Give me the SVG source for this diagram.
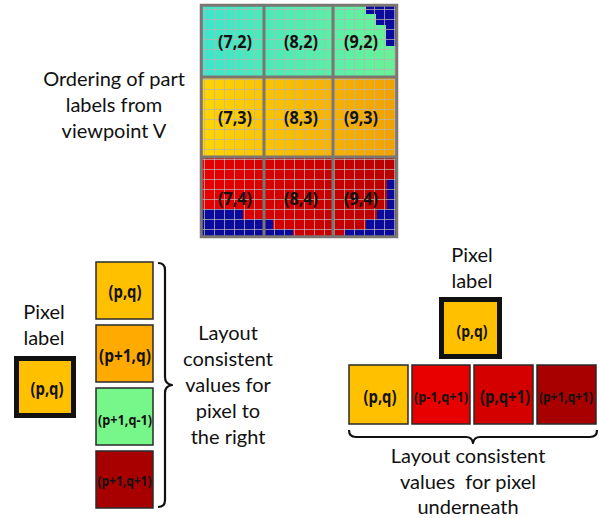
<svg xmlns="http://www.w3.org/2000/svg" width="599" height="518" viewBox="0 0 599 518">
<style>
.t{font-family:Lato,"Liberation Sans",sans-serif;font-size:20px;fill:#111;text-anchor:middle}
.b{font-family:"Open Sans","Liberation Sans",sans-serif;font-weight:700;fill:#111;text-anchor:middle}
.sq{stroke:#2a2a2a;stroke-width:1.5}
.thick{stroke:#111;stroke-width:5}
.sep{stroke:#7b7672;stroke-width:3;fill:none}
.brace{fill:none;stroke:#111;stroke-width:2.2;stroke-linejoin:round}
</style>
<defs>
<linearGradient id="g1" x1="200" y1="0" x2="398" y2="0" gradientUnits="userSpaceOnUse"><stop offset="0" stop-color="#3CE6CC"/><stop offset="1" stop-color="#68F494"/></linearGradient>
<linearGradient id="g2" x1="200" y1="0" x2="398" y2="0" gradientUnits="userSpaceOnUse"><stop offset="0" stop-color="#FFD600"/><stop offset="1" stop-color="#F2A000"/></linearGradient>
<linearGradient id="g3" x1="200" y1="0" x2="398" y2="0" gradientUnits="userSpaceOnUse"><stop offset="0" stop-color="#E80000"/><stop offset="1" stop-color="#B80000"/></linearGradient>
<pattern id="fg" x="204" y="9" width="10" height="10" patternUnits="userSpaceOnUse"><path d="M0 0.5H10M0.5 0V10" stroke="#b8b2b2" stroke-opacity="0.75" stroke-width="1"/></pattern>
</defs>

<g id="part-grid">
<rect x="200" y="4" width="198" height="73" fill="url(#g1)"/>
<rect x="200" y="77" width="198" height="80" fill="url(#g2)"/>
<rect x="200" y="157" width="198" height="81" fill="url(#g3)"/>
<polygon fill="#0A0A9C" points="366,5 397,5 397,46 386,46 386,25 376,25 376,14 366,14"/>
<polygon fill="#0A0A9C" points="202,209 243,209 243,219 273,219 273,229 293,229 293,237 202,237"/>
<polygon fill="#0A0A9C" points="387,179 397,179 397,237 345,237 345,229 366,229 366,219 377,219 377,209 387,209"/>
<rect x="200" y="4" width="198" height="234" fill="url(#fg)"/>
<path class="sep" d="M264 4V238M333 4V238M200 77H398M200 157H398"/>
<rect x="201.25" y="5.25" width="195.5" height="231.5" class="sep" stroke-width="2.5"/>
<g class="b" font-size="17.5">
<text x="235" y="48" textLength="34" lengthAdjust="spacingAndGlyphs">(7,2)</text><text x="301" y="48" textLength="34" lengthAdjust="spacingAndGlyphs">(8,2)</text><text x="361" y="48" textLength="34" lengthAdjust="spacingAndGlyphs">(9,2)</text>
<text x="235" y="124" textLength="34" lengthAdjust="spacingAndGlyphs">(7,3)</text><text x="301" y="124" textLength="34" lengthAdjust="spacingAndGlyphs">(8,3)</text><text x="361" y="124" textLength="34" lengthAdjust="spacingAndGlyphs">(9,3)</text>
<text x="235" y="205" textLength="34" lengthAdjust="spacingAndGlyphs">(7,4)</text><text x="301" y="205" textLength="34" lengthAdjust="spacingAndGlyphs">(8,4)</text><text x="361" y="205" textLength="34" lengthAdjust="spacingAndGlyphs">(9,4)</text>
</g>
</g>

<g id="grid-caption">
<text class="t" x="114" y="86">Ordering of part</text>
<text class="t" x="114" y="112">labels from</text>
<text class="t" x="114" y="138">viewpoint V</text>
</g>

<g id="left-pixel">
<text class="t" x="44" y="319">Pixel</text>
<text class="t" x="44" y="345">label</text>
<rect x="16.5" y="358.5" width="57" height="57" fill="#FFC000" class="thick"/>
<text class="b" font-size="17" x="47" y="395" textLength="33" lengthAdjust="spacingAndGlyphs">(p,q)</text>
</g>

<g id="right-values">
<rect class="sq" x="96" y="262" width="57" height="57" fill="#FFC000"/>
<text class="b" font-size="17" x="125" y="298" textLength="33" lengthAdjust="spacingAndGlyphs">(p,q)</text>
<rect class="sq" x="96" y="325" width="57" height="57" fill="#FFAA00"/>
<text class="b" font-size="17" x="125" y="362" textLength="52" lengthAdjust="spacingAndGlyphs">(p+1,q)</text>
<rect class="sq" x="96" y="388" width="57" height="57" fill="#77F68A"/>
<text class="b" font-size="15" x="125" y="425" textLength="54" lengthAdjust="spacingAndGlyphs">(p+1,q-1)</text>
<rect class="sq" x="96" y="451" width="57" height="57" fill="#A80000"/>
<text class="b" font-size="14.5" x="124.5" y="486" textLength="54" lengthAdjust="spacingAndGlyphs">(p+1,q+1)</text>
</g>

<g id="right-caption">
<text class="t" x="228" y="340">Layout</text>
<text class="t" x="228" y="366">consistent</text>
<text class="t" x="228" y="392">values for</text>
<text class="t" x="228" y="418">pixel to</text>
<text class="t" x="228" y="444">the right</text>
</g>

<g id="top-pixel">
<text class="t" x="472" y="262">Pixel</text>
<text class="t" x="472" y="288">label</text>
<rect x="441.5" y="299.5" width="58" height="57" fill="#FFC000" class="thick"/>
<text class="b" font-size="16.5" x="472" y="337" textLength="31" lengthAdjust="spacingAndGlyphs">(p,q)</text>
</g>

<g id="under-values">
<rect class="sq" x="349" y="365" width="59" height="59" fill="#FFC000"/>
<text class="b" font-size="17" x="380" y="403" textLength="33" lengthAdjust="spacingAndGlyphs">(p,q)</text>
<rect class="sq" x="412" y="365" width="58" height="59" fill="#E80000"/>
<text class="b" font-size="15" x="441" y="402" textLength="54" lengthAdjust="spacingAndGlyphs">(p-1,q+1)</text>
<rect class="sq" x="474" y="365" width="59" height="59" fill="#D40000"/>
<text class="b" font-size="17" x="505" y="403" textLength="50" lengthAdjust="spacingAndGlyphs">(p,q+1)</text>
<rect class="sq" x="537" y="365" width="59" height="59" fill="#A80000"/>
<text class="b" font-size="14.5" x="566" y="402" textLength="54" lengthAdjust="spacingAndGlyphs">(p+1,q+1)</text>
</g>

<g id="under-caption">
<text class="t" x="468" y="463">Layout consistent</text>
<text class="t" x="468" y="489" style="white-space:pre">values  for pixel</text>
<text class="t" x="468" y="514">underneath</text>
</g>

<g id="connectors">
<path class="brace" d="M158 263Q165 263 165 270V377Q165 384 172 385Q165 386 165 393V500Q165 507 158 507"/>
<path class="brace" d="M349 430Q349 437 356 437H466Q472 437 473 443Q474 437 480 437H590Q597 437 597 430"/>
</g>
</svg>
